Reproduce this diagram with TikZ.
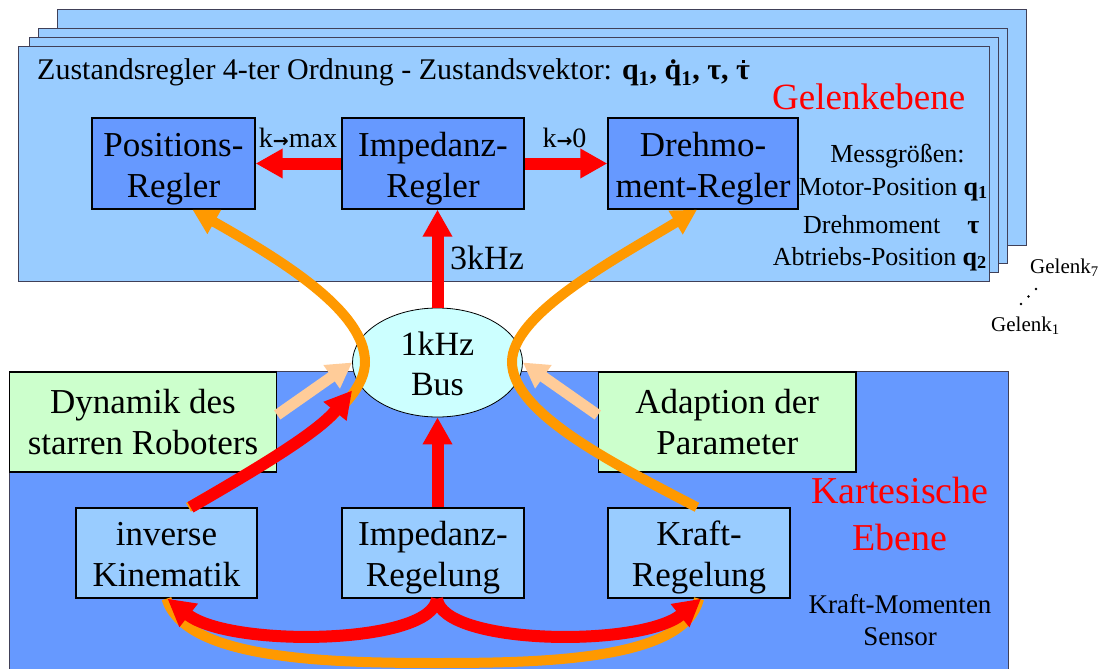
\documentclass[tikz,border=0pt]{standalone}
\usepackage{fontspec}
\setmainfont{Liberation Serif}
\newfontfamily\arrowfont{DejaVu Sans}
\usetikzlibrary{arrows.meta,shapes.geometric,calc}
\definecolor{panelblue}{HTML}{99CCFF}
\definecolor{boxblue}{HTML}{6699FF}
\definecolor{lgreen}{HTML}{CCFFCC}
\definecolor{lcyan}{HTML}{CCFFFF}
\definecolor{aorange}{HTML}{FF9900}
\definecolor{apeach}{HTML}{FFCC99}
\definecolor{ared}{HTML}{FF0000}
\definecolor{edgegray}{HTML}{404058}
\newcommand\myTop[1]{\rule{0pt}{#1pt}}
\newcommand\myBot{\rule[-10pt]{0pt}{10pt}}
\newcommand\karr{{\arrowfont\bfseries\fontsize{19}{19}\selectfont →}}
\newcommand\dottau{\ooalign{τ\cr\hidewidth\rule[0.56em]{2.8pt}{2.8pt}\hidewidth\cr}}
\begin{document}
\begin{tikzpicture}[x=1pt,y=-1pt,
  panel/.style={draw=edgegray,line width=0.9pt,fill=panelblue},
  blk/.style={draw=black,line width=1.4pt,align=center,inner sep=0pt,
    font=\fontsize{35}{41}\selectfont},
  oline/.style={draw=aorange,line width=10pt,-{Triangle[length=25pt,width=26pt]}},
  rline/.style={draw=ared,line width=12pt,-{Triangle[length=27pt,width=28pt]}},
  pline/.style={draw=apeach,line width=11pt,-{Triangle[length=25pt,width=27pt]}},
  lbl/.style={inner sep=0pt,anchor=base},
]
\useasboundingbox (0,0) rectangle (1101,669);
% joint layer panels
\draw[panel] (57,9.5) rectangle (1026,245);
\draw[panel] (38.5,28) rectangle (1007.5,263);
\draw[panel] (29,37.5) rectangle (998.5,272);
\draw[panel] (18.5,46) rectangle (989,281);
% cartesian panel
\draw[draw=edgegray,line width=0.9pt,fill=boxblue] (9.5,371) rectangle (1008,690);

% title and labels of the joint level
\node[lbl,anchor=base west,font=\fontsize{30}{34}\selectfont] (title) at (37,80)
  {Zustandsregler 4-ter Ordnung - Zustandsvektor: \textbf{q\textsubscript{1}, q̇\textsubscript{1}, τ, \dottau}};
\node[lbl,anchor=base west,text=ared,font=\fontsize{37}{44}\selectfont] (gel) at (772,110) {Gelenkebene};

% joint level blocks
\node[blk,fill=boxblue,minimum width=163pt,minimum height=91pt] (pos) at (173.5,163.5)
  {\myTop{36}Positions-\\Regler\myBot};
\node[blk,fill=boxblue,minimum width=182pt,minimum height=91pt] (imp) at (433,163.5)
  {\myTop{36}Impedanz-\\Regler\myBot};
\node[blk,fill=boxblue,minimum width=190pt,minimum height=91pt] (dre) at (703,163.5)
  {\myTop{36}Drehmo-\\ment-Regler\myBot};

% measured quantities
\node[lbl,font=\fontsize{26}{30}\selectfont] (mess) at (897.5,162) {Messgrößen:};
\node[lbl,anchor=base east,font=\fontsize{26}{30}\selectfont] (mpos) at (988,195) {Motor-Position \textbf{q\textsubscript{1}}};
\node[lbl,anchor=base west,font=\fontsize{26}{30}\selectfont] (dmom) at (803,233) {Drehmoment\hspace{27pt}\textbf{τ}};
\node[lbl,anchor=base east,font=\fontsize{26}{30}\selectfont] (apos) at (987,265) {Abtriebs-Position \textbf{q\textsubscript{2}}};

% joint index
\node[lbl,anchor=base west,font=\fontsize{21}{24}\selectfont] (g7) at (1030,273) {Gelenk\textsubscript{7}};
\node[lbl,anchor=base west,font=\fontsize{21}{24}\selectfont] (g1) at (991,331) {Gelenk\textsubscript{1}};
\fill (1021,304) circle (1.3);
\fill (1028.5,296.5) circle (1.3);
\fill (1036,289) circle (1.3);

% bus
\node[draw=black,line width=0.8pt,fill=lcyan,ellipse,minimum width=170pt,minimum height=109pt,
  inner sep=0pt,align=center,font=\fontsize{34}{40}\selectfont] (bus) at (437.5,362.5)
  {\myTop{30}1kHz\\Bus\rule[-5pt]{0pt}{5pt}};

% cartesian level blocks
\node[blk,fill=lgreen,minimum width=267pt,minimum height=100pt] (dyn) at (143,422)
  {\myTop{33}Dynamik des\\starren Roboters\myBot};
\node[blk,fill=lgreen,minimum width=257.5pt,minimum height=100pt] (ada) at (727.25,422)
  {\myTop{33}Adaption der\\Parameter\myBot};
\node[blk,fill=panelblue,minimum width=181pt,minimum height=90pt] (kin) at (166.5,553)
  {\myTop{35}inverse\\Kinematik\myBot};
\node[blk,fill=panelblue,minimum width=182pt,minimum height=90pt] (impr) at (433,553)
  {\myTop{35}Impedanz-\\Regelung\myBot};
\node[blk,fill=panelblue,minimum width=182pt,minimum height=90pt] (kra) at (699,553)
  {\myTop{35}Kraft-\\Regelung\myBot};

\node[lbl,text=ared,font=\fontsize{38}{46}\selectfont] (kart1) at (900,503) {Kartesische};
\node[lbl,text=ared,font=\fontsize{38}{46}\selectfont] (kart2) at (900,550) {Ebene};
\node[lbl,font=\fontsize{27}{32}\selectfont] (kms1) at (900,613) {Kraft-Momenten};
\node[lbl,font=\fontsize{27}{32}\selectfont] (kms2) at (900,645) {Sensor};

% helper coordinates
\coordinate (lv) at (365,362);
\coordinate (rv) at (512,362);
\coordinate (ob) at (437,663);

% orange connectors
\draw[oline] ($(kin.north)+(22,0)$) .. controls (275,458) and (365,410) .. (lv)
  .. controls (365,312) and (285,262) .. ($(pos.south)+(19,0)$);
\draw[oline] ($(kra.north)+(-2,0)$) .. controls (610,462) and (512,412) .. (rv)
  .. controls (512,315) and (610,262) .. ($(dre.south)+(-6,0)$);
\draw[oline,-] (kin.south) .. controls (185,660) and (330,663) .. (ob)
  .. controls (545,663) and (685,660) .. (kra.south);

% red connectors
\draw[rline] (imp.west) -- (pos.east);
\draw[rline] (imp.east) -- (dre.west);
\draw[rline] (bus.north) -- (bus.north |- imp.south);
\draw[rline] (bus.south |- impr.north) -- (bus.south);
\draw[rline] ($(kin.north)+(24,0)$) .. controls (262,466) and (318,432) .. ($(bus.west)+(0,28)$);
\draw[rline] ($(impr.south)+(4,0)$) .. controls (432,645) and (230,648) .. ($(kin.south)+(1,0)$);
\draw[rline] ($(impr.south)+(4,0)$) .. controls (442,645) and (640,648) .. ($(kra.south)+(2,0)$);

% peach connectors
\draw[pline] ($(dyn.east)+(0,-7)$) -- (bus.west);
\draw[pline] ($(ada.west)+(0,-7)$) -- (bus.east);

% arrow labels
\node[lbl,font=\fontsize{28}{32}\selectfont] (kmax) at (298,147) {k\karr max};
\node[lbl,font=\fontsize{28}{32}\selectfont] (knull) at (564.5,147) {k\karr 0};
\node[lbl,anchor=base west,font=\fontsize{34}{40}\selectfont] (khz) at (450,269) {3kHz};
\end{tikzpicture}
\end{document}
